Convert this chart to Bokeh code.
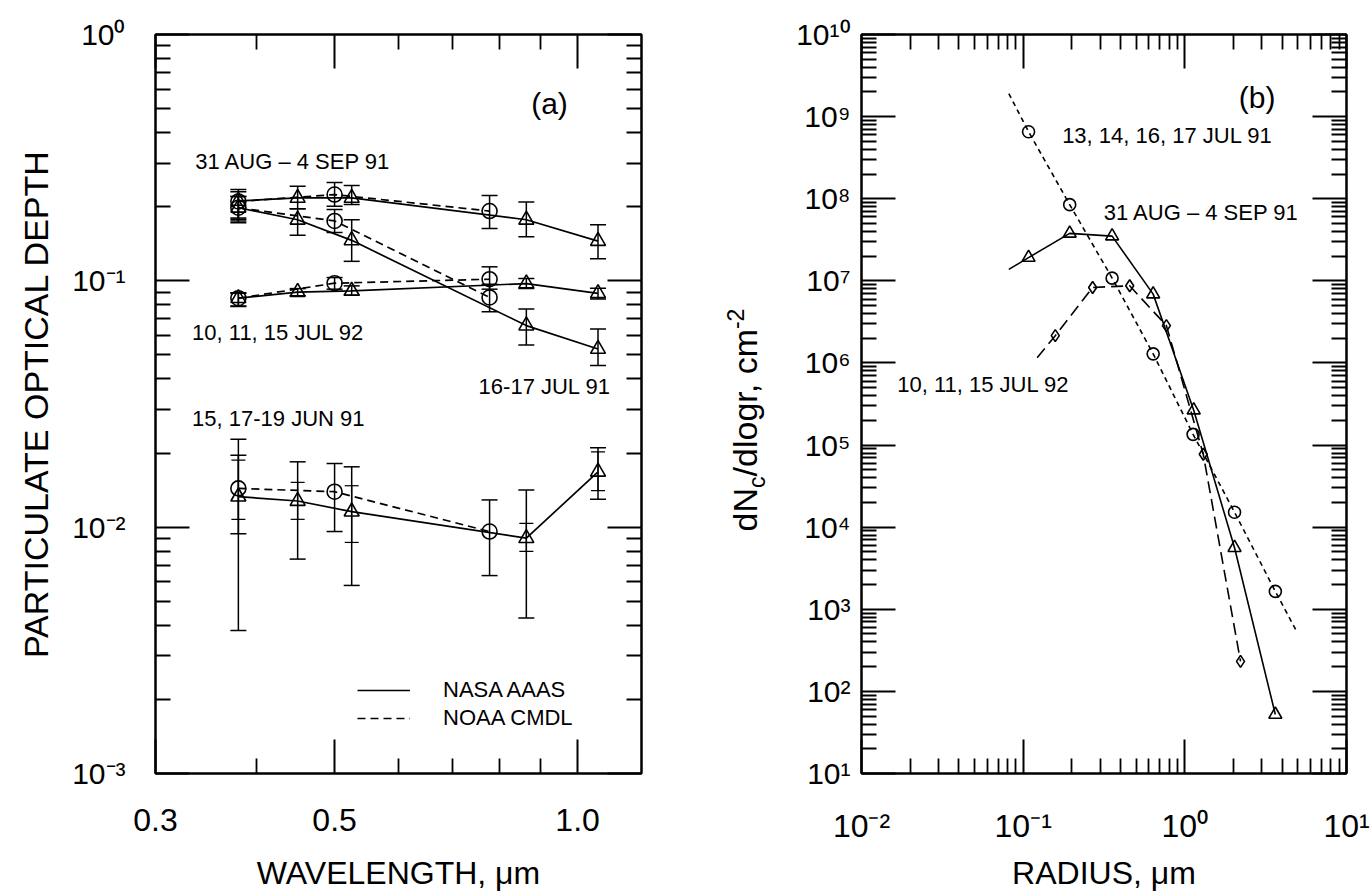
from bokeh.plotting import figure
from bokeh.models import (FixedTicker, LogAxis, Whisker, TeeHead, ColumnDataSource,
                          Label, Legend, LegendItem, Range1d, Div)
from bokeh.layouts import row
from bokeh.embed import file_html
from bokeh.resources import INLINE

FONT = "Liberation Sans"

# ---------------- Panel (a): optical depth vs wavelength ----------------
nasa_wl = [0.38, 0.45, 0.525, 0.864, 1.06]
noaa_wl = [0.38, 0.50, 0.778]

# 31 AUG - 4 SEP 91
aug_nasa = [0.211, 0.217, 0.217, 0.177, 0.145]
aug_nasa_hi = [0.235, 0.242, 0.244, 0.209, 0.169]
aug_nasa_lo = [0.172, 0.196, 0.204, 0.151, 0.123]
aug_noaa = [0.21, 0.224, 0.192]
aug_noaa_hi = [0.23, 0.251, 0.222]
aug_noaa_lo = [0.18, 0.201, 0.163]

# 16-17 JUL 91
jul91_nasa = [0.198, 0.177, 0.146, 0.0658, 0.0529]
jul91_nasa_hi = [0.22, 0.196, 0.177, 0.0768, 0.0637]
jul91_nasa_lo = [0.175, 0.153, 0.120, 0.0549, 0.0453]
jul91_noaa = [0.198, 0.175, 0.0856]
jul91_noaa_hi = [0.22, 0.195, 0.0969]
jul91_noaa_lo = [0.178, 0.157, 0.0749]

# 10, 11, 15 JUL 92
jul92_nasa = [0.085, 0.090, 0.091, 0.0975, 0.089]
jul92_nasa_hi = [0.0894, 0.093, 0.0954, 0.1021, 0.0934]
jul92_nasa_lo = [0.0787, 0.087, 0.0875, 0.0931, 0.0843]
jul92_noaa = [0.085, 0.0978, 0.1015]
jul92_noaa_hi = [0.089, 0.1031, 0.114]
jul92_noaa_lo = [0.079, 0.0925, 0.0925]

# 15, 17-19 JUN 91
jun_nasa = [0.0133, 0.01277, 0.01156, 0.00902, 0.01678]
jun_nasa_hi = [0.02275, 0.01842, 0.01758, 0.01415, 0.02103]
jun_nasa_lo = [0.00381, 0.00742, 0.0058, 0.00428, 0.01297]
jun_nasa_hi2 = [0.01872, 0.0152, 0.01473, 0.01037, 0.0202]
jun_nasa_lo2 = [0.01076, 0.01076, 0.00867, 0.00797, 0.01406]
jun_noaa = [0.01437, 0.01393, 0.0096]
jun_noaa_hi = [0.0196, 0.01813, 0.0129]
jun_noaa_lo = [0.0094, 0.0096, 0.00636]

xa_major = [0.3, 0.5, 1.0]
xa_labels = ["0.3", "0.5", "1.0"]
xa_minor = [0.4, 0.6, 0.7, 0.8, 0.9]
ya_exps = [-3, -2, -1, 0]

# ---------------- Panel (b): size distributions ----------------
jul91_r = [0.108, 0.194, 0.355, 0.637, 1.125, 2.03, 3.63]
jul91_n = [6.55e8, 8.47e7, 1.08e7, 1.29e6, 1.35e5, 1.52e4, 1.65e3]
jul91_line_start = (0.0815, 1.91e9)
jul91_line_end = (4.95, 525.0)

aug_r = [0.108, 0.194, 0.355, 0.637, 1.135, 2.03, 3.63]
aug_n = [1.92e7, 3.78e7, 3.5e7, 6.89e6, 2.66e5, 5.62e3, 52.3]
aug_line_start = (0.0815, 1.38e7)

jul92_r = [0.158, 0.269, 0.456, 0.769, 1.30, 2.21]
jul92_n = [2.15e6, 8.3e6, 8.7e6, 2.85e6, 7.73e4, 232.0]
jul92_line_start = (0.122, 1.16e6)

xb_exps = [-2, -1, 0, 1]
yb_exps = list(range(1, 11))

SUP = str.maketrans("0123456789-", "⁰¹²³⁴⁵⁶⁷⁸⁹⁻")


def pow_label(e):
    return "10" + str(e).translate(SUP)


def minor_decades(exps):
    out = []
    for e in exps[:-1]:
        out += [m * 10.0 ** e for m in range(2, 10)]
    return out


def style_axis(ax, size, standoff, major_len=34, minor_len=15):
    ax.axis_line_width = 2
    ax.axis_line_color = "black"
    ax.major_tick_in = major_len
    ax.major_tick_out = 0
    ax.minor_tick_in = minor_len
    ax.minor_tick_out = 0
    ax.major_tick_line_width = 2
    ax.minor_tick_line_width = 1.8
    ax.major_tick_line_color = "black"
    ax.minor_tick_line_color = "black"
    ax.major_label_text_font = FONT
    ax.major_label_text_color = "black"
    ax.major_label_standoff = standoff
    ax.major_label_text_font_size = size


def title_axis(ax, label, size, standoff, font=FONT):
    ax.axis_label = label
    ax.axis_label_text_font = font
    ax.axis_label_text_font_size = size
    ax.axis_label_text_font_style = "normal"
    ax.axis_label_text_color = "black"
    ax.axis_label_standoff = standoff


def mirror_axis(ticks, minor):
    ax = LogAxis(ticker=FixedTicker(ticks=ticks, minor_ticks=minor))
    style_axis(ax, "10px", 0)
    ax.major_label_overrides = {t: "" for t in ticks}
    return ax


def whisker(p, base, lo, hi, width=1.5, cap=16):
    src = ColumnDataSource(dict(base=base, lower=lo, upper=hi))
    w = Whisker(base="base", lower="lower", upper="upper", source=src, dimension="height",
                line_color="black", line_width=width,
                upper_head=TeeHead(size=cap, line_width=width, line_color="black"),
                lower_head=TeeHead(size=cap, line_width=width, line_color="black"))
    p.add_layout(w)


def text(p, x, y, s, size, align="left", baseline="middle"):
    p.add_layout(Label(x=x, y=y, text=s, text_font=FONT, text_font_size=size,
                       text_color="black", text_align=align, text_baseline=baseline))


# ================= Figure (a) =================
pa = figure(width=700, height=893, x_axis_type="log", y_axis_type="log",
            x_range=Range1d(0.3, 1.2), y_range=Range1d(1e-3, 1.0),
            output_backend="svg", toolbar_location=None,
            min_border_left=155, min_border_right=59, min_border_top=31, min_border_bottom=120)
pa.grid.visible = False
pa.outline_line_color = "black"
pa.outline_line_width = 2
pa.background_fill_color = "white"
pa.border_fill_color = "white"

ya_ticks = [10.0 ** e for e in ya_exps]
ya_minor = minor_decades(ya_exps)

ax_b = pa.below[0]
ax_b.ticker = FixedTicker(ticks=xa_major, minor_ticks=xa_minor)
ax_b.major_label_overrides = {t: l for t, l in zip(xa_major, xa_labels)}
style_axis(ax_b, "32px", 35)
title_axis(ax_b, "WAVELENGTH, μm", "32px", 21)
ax_l = pa.left[0]
ax_l.ticker = FixedTicker(ticks=ya_ticks, minor_ticks=ya_minor)
ax_l.major_label_overrides = {t: pow_label(e) for t, e in zip(ya_ticks, ya_exps)}
style_axis(ax_l, "30px", 30)
title_axis(ax_l, "PARTICULATE OPTICAL DEPTH", "34px", 14)
pa.add_layout(mirror_axis(xa_major, xa_minor), "above")
pa.add_layout(mirror_axis(ya_ticks, ya_minor), "right")

DASH_A = "8 5"
legend_renderers = {}
groups = [
    (aug_nasa, aug_nasa_lo, aug_nasa_hi, aug_noaa, aug_noaa_lo, aug_noaa_hi),
    (jul91_nasa, jul91_nasa_lo, jul91_nasa_hi, jul91_noaa, jul91_noaa_lo, jul91_noaa_hi),
    (jul92_nasa, jul92_nasa_lo, jul92_nasa_hi, jul92_noaa, jul92_noaa_lo, jul92_noaa_hi),
    (jun_nasa, jun_nasa_lo, jun_nasa_hi, jun_noaa, jun_noaa_lo, jun_noaa_hi),
]
for g in groups:
    nasa, nlo, nhi, noaa, olo, ohi = g
    whisker(pa, nasa_wl, nlo, nhi)
    whisker(pa, noaa_wl, olo, ohi)
    rn = pa.line(nasa_wl, nasa, line_color="black", line_width=1.7)
    ro = pa.line(noaa_wl, noaa, line_color="black", line_width=1.7, line_dash=DASH_A)
    legend_renderers["nasa"] = rn
    legend_renderers["noaa"] = ro
    pa.scatter(nasa_wl, nasa, marker="triangle", size=15, fill_color=None,
               line_color="black", line_width=1.6)
    pa.scatter(noaa_wl, noaa, marker="circle", size=15, fill_color=None,
               line_color="black", line_width=1.6)
# inner error caps of the June NASA points
whisker(pa, nasa_wl, jun_nasa_lo2, jun_nasa_hi2, width=1.2, cap=14)

legend = Legend(items=[LegendItem(label="NASA AAAS", renderers=[legend_renderers["nasa"]]),
                       LegendItem(label="NOAA CMDL", renderers=[legend_renderers["noaa"]])],
                location=(202, 42), glyph_width=53, glyph_height=22, label_height=22,
                spacing=2, label_standoff=33, padding=0, margin=0,
                border_line_color=None, background_fill_alpha=0,
                label_text_font=FONT, label_text_font_size="22px", label_text_color="black")
pa.add_layout(legend)

text(pa, 0.336, 0.3065, "31 AUG – 4 SEP 91", "22px")
text(pa, 0.333, 0.0618, "10, 11, 15 JUL 92", "22px")
text(pa, 0.754, 0.0374, "16-17 JUL 91", "22px")
text(pa, 0.333, 0.0276, "15, 17-19 JUN 91", "22px")
text(pa, 0.923, 0.526, "(a)", "30px", align="center")

# ================= y title of panel (b), with sub/superscript =================
ytitle_b = Div(
    text=('<div style="position:absolute; left:47px; top:420px; '
          'transform:translate(-50%,-50%) rotate(-90deg); white-space:nowrap; '
          "font-family:'Liberation Sans',Arial,sans-serif; font-size:34px; color:black; "
          'line-height:1;">dN<sub style="font-size:23px;">c</sub>/dlogr, cm'
          '<sup style="font-size:23px;">-2</sup></div>'),
    width=70, height=893, margin=(0, 0, 0, 0),
    styles={"position": "relative", "overflow": "visible"})

# ================= Figure (b) =================
pb = figure(width=601, height=893, x_axis_type="log", y_axis_type="log",
            x_range=Range1d(1e-2, 10.0), y_range=Range1d(10.0, 1e10),
            output_backend="svg", toolbar_location=None,
            min_border_left=91, min_border_right=25, min_border_top=34, min_border_bottom=116)
pb.grid.visible = False
pb.outline_line_color = "black"
pb.outline_line_width = 2
pb.background_fill_color = "white"
pb.border_fill_color = "white"

xb_ticks = [10.0 ** e for e in xb_exps]
yb_ticks = [10.0 ** e for e in yb_exps]
xb_minor = minor_decades(xb_exps)
yb_minor = minor_decades(yb_exps)
bx_b = pb.below[0]
bx_b.ticker = FixedTicker(ticks=xb_ticks, minor_ticks=xb_minor)
bx_b.major_label_overrides = {t: pow_label(e) for t, e in zip(xb_ticks, xb_exps)}
style_axis(bx_b, "32px", 34)
title_axis(bx_b, "RADIUS, μm", "32px", 8)
bx_l = pb.left[0]
bx_l.ticker = FixedTicker(ticks=yb_ticks, minor_ticks=yb_minor)
bx_l.major_label_overrides = {t: pow_label(e) for t, e in zip(yb_ticks, yb_exps)}
style_axis(bx_l, "30px", 11)
pb.add_layout(mirror_axis(xb_ticks, xb_minor), "above")
pb.add_layout(mirror_axis(yb_ticks, yb_minor), "right")

# 13, 14, 16, 17 JUL 91 (short dashes, circles)
pb.line([jul91_line_start[0]] + jul91_r + [jul91_line_end[0]],
        [jul91_line_start[1]] + jul91_n + [jul91_line_end[1]],
        line_color="black", line_width=1.6, line_dash="5 4")
pb.scatter(jul91_r, jul91_n, marker="circle", size=12, fill_color=None,
           line_color="black", line_width=1.6)
# 31 AUG - 4 SEP 91 (solid, triangles)
pb.line([aug_line_start[0]] + aug_r, [aug_line_start[1]] + aug_n,
        line_color="black", line_width=1.6)
pb.scatter(aug_r, aug_n, marker="triangle", size=13, fill_color=None,
           line_color="black", line_width=1.6)
# 10, 11, 15 JUL 92 (long dashes, diamonds)
pb.line([jul92_line_start[0]] + jul92_r, [jul92_line_start[1]] + jul92_n,
        line_color="black", line_width=1.6, line_dash="12 6")
pb.scatter(jul92_r, jul92_n, marker="diamond", size=12, fill_color=None,
           line_color="black", line_width=1.6)

text(pb, 2.8, 1.72e9, "(b)", "30px", align="center")
text(pb, 0.1742, 5.97e8, "13, 14, 16, 17 JUL 91", "22px")
text(pb, 0.315, 6.73e7, "31 AUG – 4 SEP 91", "22px")
text(pb, 0.01663, 5.44e5, "10, 11, 15 JUL 92", "22px")

layout = row(pa, ytitle_b, pb)
open("out.html", "w").write(file_html(layout, INLINE))
